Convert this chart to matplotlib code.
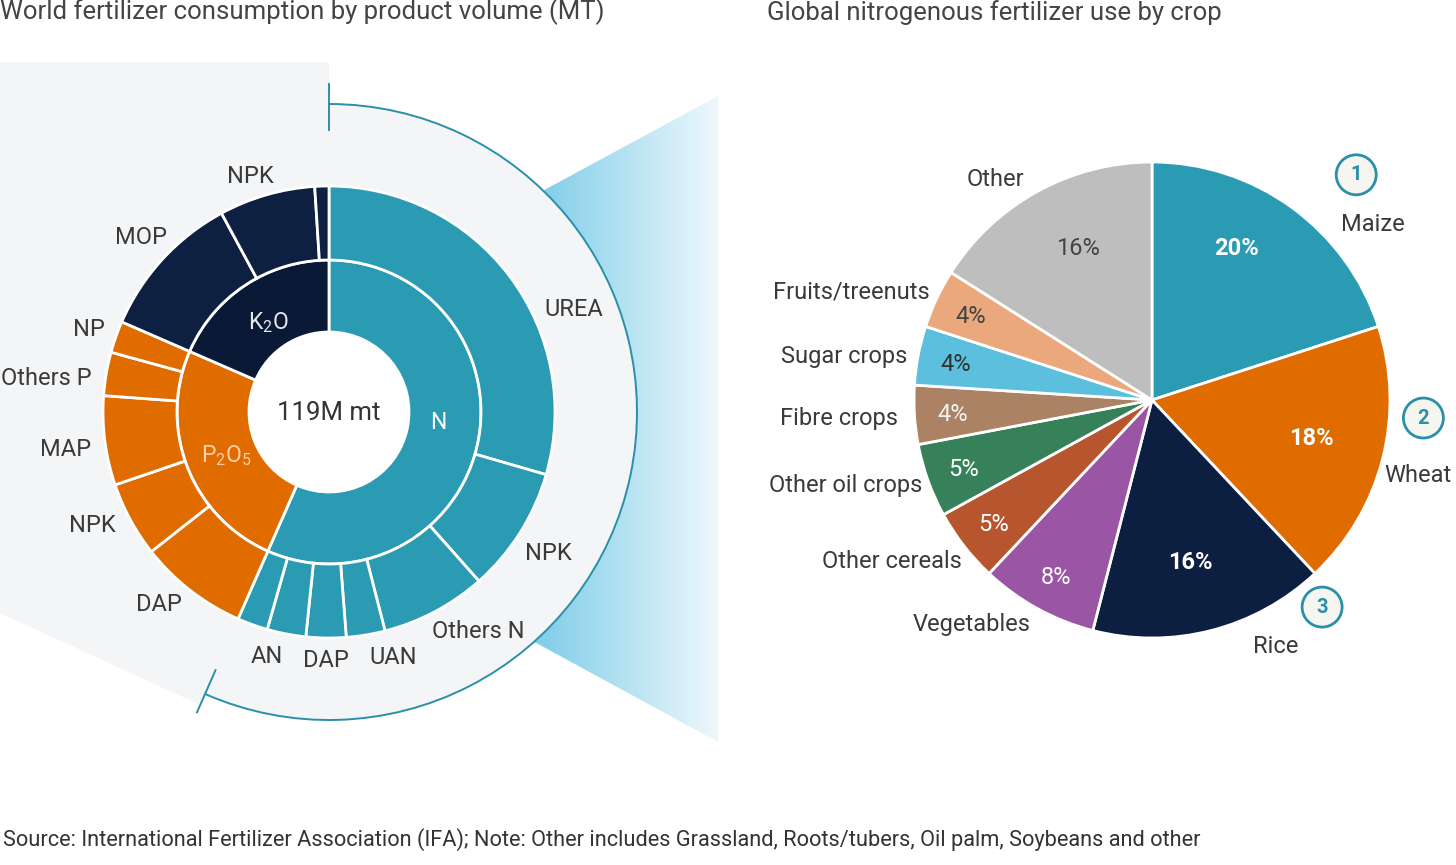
import matplotlib
matplotlib.use("Agg")
import matplotlib.pyplot as plt
import numpy as np
from matplotlib.patches import Circle, Polygon, Arc
from matplotlib.colors import LinearSegmentedColormap

plt.rcParams['font.family'] = ['Roboto', 'DejaVu Sans']

# left chart: world fertilizer consumption, million tonnes (clockwise from 12 o'clock)
nutrients = ['N', r'P$_{\mathregular{2}}$O$_{\mathregular{5}}$', r'K$_{\mathregular{2}}$O']
n_products = ['UREA', 'NPK', 'Others N', 'UAN', 'DAP', 'AN', '']
n_volumes = [35.1, 10.7, 9.0, 3.3, 3.4, 3.3, 2.6]
p_products = ['DAP', 'NPK', 'MAP', 'Others P', 'NP']
p_volumes = [9.3, 6.4, 7.6, 3.7, 2.7]
k_products = ['MOP', 'NPK', '']
k_volumes = [12.6, 8.2, 1.2]
total_label = '119M mt'

# right chart: global nitrogenous fertilizer use by crop (%)
crops = ['Maize', 'Wheat', 'Rice', 'Vegetables', 'Other cereals', 'Other oil crops',
         'Fibre crops', 'Sugar crops', 'Fruits/treenuts', 'Other']
crop_share = [20, 18, 16, 8, 5, 5, 4, 4, 4, 16]
ranks = ['1', '2', '3']

title_left = 'World fertilizer consumption by product volume (MT)'
title_right = 'Global nitrogenous fertilizer use by crop'
source = ('Source: International Fertilizer Association (IFA); Note: Other includes Grassland, '
          'Roots/tubers, Oil palm, Soybeans and other')

# colours
teal = '#2b9bb3'
orange = '#e06c00'
navy = '#0e2042'
navy_dark = '#0a1936'
bg_grey = '#f4f5f7'
arc_col = '#2a8fa8'
txt = '#3a3a3a'
crop_colors = ['#2b9bb3', '#e06c00', '#0d1f40', '#9a56a5', '#b7552e', '#36815a',
               '#ab8263', '#5bbfdd', '#eba87d', '#bebebe']
pct_colors = ['white', 'white', 'white', 'white', 'white', 'white',
              '#f2f2f2', '#333333', '#444444', '#444444']

fig = plt.figure(figsize=(14.56, 8.65), dpi=100)
ax = fig.add_axes([0, 0, 1, 1])

H = 865
cx, cy = 329, H - 412
r_hole, r_in, r_out, r_arc = 80, 152, 226, 308

# ---- background: blue "zoom" wedge with gradient
grad_x = np.linspace(450, 718, 300)
grad = np.clip((grad_x - 545) / (718 - 545), 0, 1).reshape(1, -1)
fade = LinearSegmentedColormap.from_list('fade', ['#84cfe9', '#eef8fc'])
im = ax.imshow(grad, extent=[450, 718, H - 742, H - 96], cmap=fade, aspect='auto',
               zorder=0.5, vmin=0, vmax=1)
clip = Polygon([(450, H - 241), (718, H - 96), (718, H - 742), (450, H - 596)],
               closed=True, transform=ax.transData, fc='none', ec='none')
im.set_clip_path(clip)

# ---- grey callout behind the sunburst
inner_vals = [sum(n_volumes), sum(p_volumes), sum(k_volumes)]
total = sum(inner_vals)
n_end = 90 - 360 * inner_vals[0] / total  # angle where N share ends
ex = cx + 320 * np.cos(np.deg2rad(n_end))
ey = cy + 320 * np.sin(np.deg2rad(n_end))
ax.add_patch(Polygon([(0, H - 62), (cx, H - 62), (cx, cy), (ex, ey), (0, H - 613)],
                     closed=True, fc=bg_grey, ec='none', zorder=1))
ax.add_patch(Circle((cx, cy), r_arc, fc=bg_grey, ec='none', zorder=1))

# arc spanning the N share, with end ticks
ax.add_patch(Arc((cx, cy), 2 * r_arc, 2 * r_arc, theta1=n_end, theta2=90,
                 color=arc_col, lw=1.4, zorder=2))
for a in (90, n_end):
    t = np.deg2rad(a)
    ax.plot([cx + 282 * np.cos(t), cx + 328 * np.cos(t)],
            [cy + 282 * np.sin(t), cy + 328 * np.sin(t)], color=arc_col, lw=1.4, zorder=2)

# ---- sunburst
w_in, _ = ax.pie(inner_vals, colors=[teal, orange, navy_dark], radius=r_in, center=(cx, cy),
                 startangle=90, counterclock=False, frame=True,
                 wedgeprops=dict(width=r_in - r_hole, edgecolor='white', linewidth=2, zorder=3))
outer_vals = n_volumes + p_volumes + k_volumes
outer_labels = n_products + p_products + k_products
outer_cols = [teal] * len(n_volumes) + [orange] * len(p_volumes) + [navy] * len(k_volumes)
w_out, _ = ax.pie(outer_vals, colors=outer_cols, radius=r_out, center=(cx, cy),
                  startangle=90, counterclock=False, frame=True,
                  wedgeprops=dict(width=r_out - r_in, edgecolor='white', linewidth=2, zorder=3))
ax.add_patch(Circle((cx, cy), r_hole - 1, fc='white', ec='none', zorder=3.5))
ax.text(cx, cy - 1, total_label, ha='center', va='center', fontsize=18.5, color='#333333', zorder=5)


def mid(w):
    return (w.theta1 + w.theta2) / 2


def put_labels(wedges, labels, center, r_lab, nudge, **kw):
    for i, (w, lab) in enumerate(zip(wedges, labels)):
        if not lab:
            continue
        da, dr = nudge.get(i, (0, 0))
        a = np.deg2rad(mid(w) + da)
        x = center[0] + (r_lab + dr) * np.cos(a)
        y = center[1] + (r_lab + dr) * np.sin(a) - 3
        c = np.cos(a)
        ha = 'left' if c > 0.1 else ('right' if c < -0.1 else 'center')
        ax.text(x, y, lab, ha=ha, va='center', zorder=5, **kw)


put_labels(w_out, outer_labels, (cx, cy), 240,
           {0: (-11, 0), 1: (-3, 0), 2: (-2.5, 0), 3: (0, 6), 4: (0, 6), 5: (0, 6),
            8: (-1, 0), 9: (1, 0), 10: (1, 0), 11: (-1.5, 0), 12: (-5, 0), 13: (-3, 5)},
           fontsize=17, color=txt)

in_cols = ['white', '#fcd0a8', '#e8e8ee']
in_nudge = [8, 0, 0]
for w, lab, c, dn in zip(w_in, nutrients, in_cols, in_nudge):
    a = np.deg2rad(mid(w) + dn)
    ax.text(cx + 110 * np.cos(a), cy + 110 * np.sin(a) - 3, lab, ha='center', va='center',
            fontsize=16.5, color=c, zorder=5)

# ---- crop pie
px, py, pr = 1152, H - 400, 238
w_r, _ = ax.pie(crop_share, colors=crop_colors, radius=pr, center=(px, py),
                startangle=90, counterclock=False, frame=True,
                wedgeprops=dict(edgecolor='white', linewidth=2, zorder=3))
put_labels(w_r, crops, (px, py), 257,
           {0: (-10.7, 3), 1: (-3, -14), 2: (8.1, 7), 3: (0, -4), 4: (2, -10), 5: (0, -13),
            6: (0, -2.5), 7: (0, -8), 8: (-1.3, -8), 9: (1, 0)},
           fontsize=17, color=txt)

pct_nudge = {0: (7, 5), 1: (1.6, -7), 2: (-1, -5)}
for i, (w, v, c) in enumerate(zip(w_r, crop_share, pct_colors)):
    da, dr = pct_nudge.get(i, (-3, 0) if i == 9 else (0, 0))
    a = np.deg2rad(mid(w) + da)
    rr = (170 if v >= 10 else 200) + dr
    bold = i < len(ranks)
    ax.text(px + rr * np.cos(a), py + rr * np.sin(a) - 2, f'{v}%', ha='center', va='center',
            fontsize=17, color=c, fontweight='bold' if bold else 'normal', zorder=5)

# rank badges on the three largest crops
rank_pos = [(47.8, 304), (-3.8, 272), (-50.6, 268)]
for lab, (a, rr) in zip(ranks, rank_pos):
    t = np.deg2rad(a)
    bx, by = px + rr * np.cos(t), py + rr * np.sin(t)
    ax.add_patch(Circle((bx, by), 20, fc='#f6f6f1', ec=arc_col, lw=2, zorder=5))
    ax.text(bx, by, lab, ha='center', va='center', fontsize=14.5, fontweight='bold',
            color=arc_col, zorder=6)

# ---- titles and source
ax.text(0, H - 12, title_left, ha='left', va='center', fontsize=18.5, color='#444444')
ax.text(767, H - 13, title_right, ha='left', va='center', fontsize=18.5, color='#444444')
ax.text(3, H - 840, source, ha='left', va='center', fontsize=15.7, color='#333333')

ax.set_xlim(0, 1456)
ax.set_ylim(0, H)
ax.set_aspect('auto')
ax.axis('off')
fig.savefig('out.png', dpi=100, facecolor='white')
